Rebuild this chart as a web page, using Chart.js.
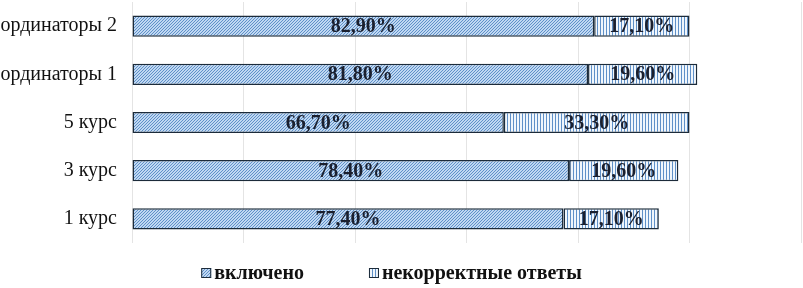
<!DOCTYPE html>
<html>
<head>
<meta charset="utf-8">
<script src="https://cdn.jsdelivr.net/npm/chart.js@4"></script>
<style>
  html, body { margin: 0; padding: 0; background: #fff; }
  #wrap { width: 803px; height: 288px; }
</style>
</head>
<body>
<div id="wrap"><canvas id="grafico"></canvas></div>
<script>
// Datos del gráfico
const categorias = ['ординаторы 2', 'ординаторы 1', '5 курс', '3 курс', '1 курс'];
const vkluchenoVals = [82.9, 81.8, 66.7, 78.4, 77.4];
const nekorrVals = [17.1, 19.6, 33.3, 19.6, 17.1];
const serieNombres = ['включено', 'некорректные ответы'];

const fuenteSerif = '"Liberation Serif", "Times New Roman", serif';

// Patrón diagonal (////)
function patronDiagonal() {
    const c = document.createElement('canvas');
    c.width = 3; c.height = 3;
    const g = c.getContext('2d');
    g.fillStyle = '#c0d8f2';
    g.fillRect(0, 0, 3, 3);
    g.fillStyle = '#5f90c8';
    // una diagonal de píxeles
    g.fillRect(0, 2, 1, 1);
    g.fillRect(1, 1, 1, 1);
    g.fillRect(2, 0, 1, 1);
    return g.createPattern(c, 'repeat');
}

// Patrón vertical (||||)
function patronVertical() {
    const c = document.createElement('canvas');
    c.width = 3; c.height = 3;
    const g = c.getContext('2d');
    g.fillStyle = '#f0f6fc';
    g.fillRect(0, 0, 3, 3);
    g.fillStyle = '#5f90c8';
    g.fillRect(0, 0, 1, 3);
    return g.createPattern(c, 'repeat');
}

const patrones = [patronDiagonal(), patronVertical()];

// Etiquetas dentro de las barras
const etiquetasPlugin = {
    id: 'etiquetas',
    afterDatasetsDraw(chart) {
        const ctx = chart.ctx;
        ctx.save();
        ctx.font = 'bold 20px ' + fuenteSerif;
        ctx.fillStyle = '#1a1f2e';
        ctx.textAlign = 'center';
        ctx.textBaseline = 'middle';
        chart.data.datasets.forEach((ds, i) => {
            chart.getDatasetMeta(i).data.forEach((bar, j) => {
                const x = (bar.x + bar.base) / 2;
                const txt = ds.data[j].toFixed(2).replace('.', ',') + '%';
                ctx.fillText(txt, x, bar.y + 1);
            });
        });
        ctx.restore();
    }
};

// Leyenda dibujada a mano
const leyendaPlugin = {
    id: 'leyenda',
    afterDraw(chart) {
        const ctx = chart.ctx;
        ctx.save();
        ctx.font = 'bold 20px ' + fuenteSerif;
        ctx.textBaseline = 'middle';
        const caja = 10, sep = 3, hueco = 65;
        const anchos = serieNombres.map(t => caja + sep + ctx.measureText(t).width);
        const total = anchos[0] + hueco + anchos[1];
        let x = (chart.width - total) / 2 - 10;
        const y = 273;
        serieNombres.forEach((t, i) => {
            ctx.fillStyle = patrones[i];
            ctx.fillRect(x, y - caja / 2, caja, caja);
            ctx.strokeStyle = '#1c2b3a';
            ctx.lineWidth = 1;
            ctx.strokeRect(x + 0.5, y - caja / 2 + 0.5, caja - 1, caja - 1);
            ctx.fillStyle = '#111';
            ctx.fillText(t, x + caja + sep, y + 1);
            x += anchos[i] + hueco;
        });
        ctx.restore();
    }
};

const ctx = document.getElementById('grafico').getContext('2d');
const grafico = new Chart(ctx, {
    type: 'bar',
    data: {
        labels: categorias,
        datasets: [{
            label: serieNombres[0],
            data: vkluchenoVals,
            backgroundColor: patrones[0],
            borderColor: '#1c2b3a',
            borderWidth: 1.5,
            borderSkipped: false
        }, {
            label: serieNombres[1],
            data: nekorrVals,
            backgroundColor: patrones[1],
            borderColor: '#1c2b3a',
            borderWidth: 1.5,
            borderSkipped: false
        }]
    },
    options: {
        indexAxis: 'y',
        responsive: true,
        maintainAspectRatio: false,
        animation: false,
        layout: { padding: { top: 2, right: 2, bottom: 45, left: 0 } },
        datasets: { bar: { categoryPercentage: 1, barPercentage: 0.44 } },
        plugins: {
            legend: { display: false },
            tooltip: { enabled: false }
        },
        scales: {
            x: {
                stacked: true,
                min: 0,
                max: 120,
                ticks: { display: false, stepSize: 20 },
                grid: { color: '#e4e4e4', drawTicks: false },
                border: { display: false }
            },
            y: {
                stacked: true,
                grid: { display: false, drawTicks: true, tickLength: 15 },
                border: { display: false },
                ticks: {
                    color: '#111',
                    padding: 0,
                    font: { family: fuenteSerif, size: 20 }
                },
                afterFit(scale) {
                    scale.width = 132;
                    scale.paddingTop = 0;
                    scale.paddingBottom = 0;
                }
            }
        }
    },
    plugins: [etiquetasPlugin, leyendaPlugin]
});
</script>
</body>
</html>
